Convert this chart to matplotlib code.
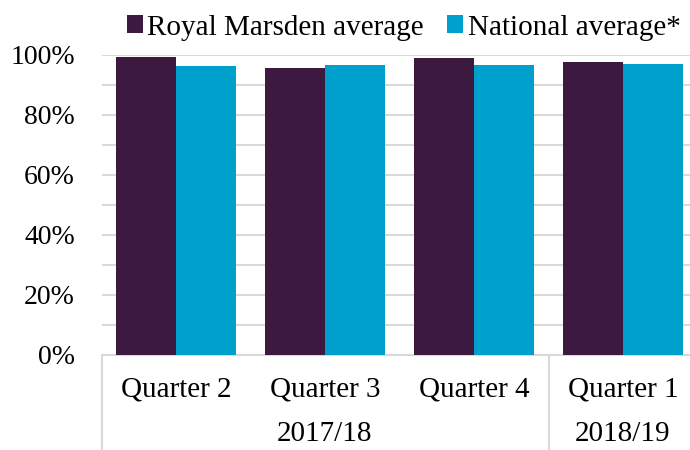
import numpy as np
import matplotlib.pyplot as plt

quarters = ['Quarter 2', 'Quarter 3', 'Quarter 4', 'Quarter 1']
year_groups = ['2017/18', '2018/19']
group_sizes = [3, 1]
royal_marsden = [0.994, 0.958, 0.991, 0.978]
national = [0.963, 0.966, 0.967, 0.969]

purple = '#3c1a40'
blue = '#00a0cc'
grey = '#d9d9d9'

plt.rcParams['font.family'] = ['Liberation Serif', 'DejaVu Serif']

fig = plt.figure(figsize=(6.9, 4.5), dpi=100)
ax = fig.add_axes([101.5 / 690, 95 / 450, 596 / 690, 300 / 450])

x = np.arange(len(quarters))
w = 0.4
ax.bar(x - w / 2, royal_marsden, w, color=purple, label='Royal Marsden average', zorder=3)
ax.bar(x + w / 2, national, w, color=blue, label='National average*', zorder=3)

ax.set_xlim(-0.5, len(quarters) - 0.5)
ax.set_ylim(0, 1)
major = np.arange(0, 1.01, 0.2)
ax.set_yticks(major)
ax.set_yticklabels([f'{round(v * 100)}%' for v in major])
ax.set_yticks(np.arange(0.1, 1.0, 0.2), minor=True)
ax.grid(axis='y', which='both', color=grey, lw=1.5, zorder=0)
ax.tick_params(axis='y', which='both', length=0, labelsize=20, pad=19)
ax.set_xticks([])
for s in ['top', 'right', 'left']:
    ax.spines[s].set_visible(False)
ax.spines['bottom'].set_color(grey)
ax.spines['bottom'].set_linewidth(1.5)

tr = ax.get_xaxis_transform()
for i, q in enumerate(quarters):
    ax.text(i, -0.137, q, transform=tr, ha='center', va='baseline', fontsize=21)

# group labels and separators
start = 0
for name, n in zip(year_groups, group_sizes):
    ax.plot([start - 0.5, start - 0.5], [0, -0.32], transform=tr, color=grey,
            lw=1.5, clip_on=False)
    ax.text(start + (n - 1) / 2, -0.288, name, transform=tr, ha='center',
            va='baseline', fontsize=21)
    start += n
ax.plot([start - 0.5, start - 0.5], [0, -0.32], transform=tr, color=grey,
        lw=1.5, clip_on=False)

fig.legend(loc='upper center', bbox_to_anchor=(0.585, 1.0), ncol=2, frameon=False,
           fontsize=21, handlelength=0.55, handleheight=0.55, handletextpad=0.15,
           columnspacing=0.8, borderaxespad=0.1)

fig.savefig('out.png', dpi=100)
